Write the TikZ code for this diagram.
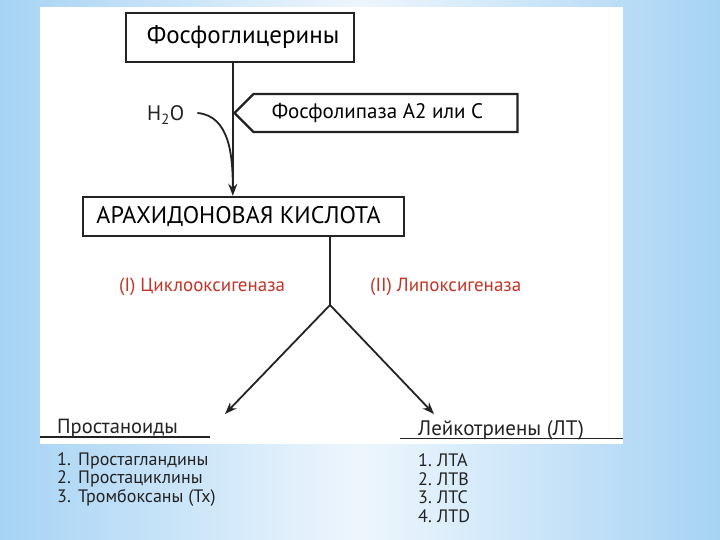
\documentclass[tikz,border=0pt]{standalone}
\usepackage{fontspec}
\setmainfont{PT Sans}
\setsansfont{PT Sans}
\usetikzlibrary{positioning,arrows.meta,shapes.symbols}
\definecolor{slideblue}{RGB}{166,211,244}
\definecolor{slidelight}{RGB}{238,246,253}
\definecolor{enzymered}{RGB}{196,52,38}
\definecolor{ink}{RGB}{35,35,35}
\tikzset{every picture/.style={/utils/exec={\sffamily}}}
\tikzset{
  box/.style={draw=ink,line width=2.4pt,fill=white,inner sep=0pt},
  word/.style={inner sep=0pt,anchor=west,text=ink},
  enzyme/.style={word,text=enzymered,font=\fontsize{19}{22}\selectfont},
  item/.style={word,font=\fontsize{18}{21}\selectfont},
  heading/.style={word,font=\fontsize{21}{24}\selectfont},
  flow/.style={draw=ink,line width=1.8pt,-{Stealth[length=12pt,width=9pt]}}
}

\begin{document}
\begin{tikzpicture}[x=1pt,y=-1pt]
  \useasboundingbox (0,0) rectangle (720,540);
  \shade[left color=slideblue,right color=slideblue,middle color=slidelight] (0,0) rectangle (720,540);
  \fill[white] (40,7.5) rectangle (623,444);

  \node[box,minimum width=228pt,minimum height=49pt,font=\fontsize{25}{29}\selectfont] (phospho) at (240,37.5) {\hspace*{6pt}Фосфоглицерины};
  \node[box,shape=signal,signal to=west,signal pointer angle=90,minimum width=283pt,minimum height=38pt,
        font=\fontsize{21}{25}\selectfont] (lipase) at (385.5,113) {Фосфолипаза А2 или С\hspace*{16pt}};
  \node[box,minimum width=321pt,minimum height=39pt,font=\fontsize{24}{28}\selectfont] (arachidon) at (243.5,216.5) {АРАХИДОНОВАЯ КИСЛОТА\hspace*{10pt}};
  \node[word,font=\fontsize{21}{25}\selectfont] (water) at (147,115) {H\textsubscript{2}O};

  \coordinate (fork) at (330,305);
  \coordinate (join) at (lipase.west |- 0,188);
  \coordinate (tipleft) at (225,414);
  \coordinate (tipright) at (434,414);

  \draw[flow] (phospho.south -| lipase.west) -- (arachidon.north -| lipase.west);
  \draw[draw=ink,line width=1.8pt] (water.east) ++(13pt,2pt) coordinate (wfrom) to[out=-5,in=90] (join);
  \draw[draw=ink,line width=1.8pt] (arachidon.south -| fork) -- (fork);
  \draw[flow] (fork) -- (tipleft);
  \draw[flow] (fork) -- (tipright);

  \node[enzyme] (cox) at (119,287) {(I) Циклооксигеназа};
  \node[enzyme] (lox) at (370,287) {(II) Липоксигеназа};

  \node[heading,font=\fontsize{20.5}{24}\selectfont] (prostanoids) at (57,428) {Простаноиды};
  \node[heading] (leukotrienes) at (418,430) {Лейкотриены (ЛТ)};
  \draw[draw=ink,line width=1.6pt] (40,437) -- (210,437);
  \draw[draw=ink,line width=1.6pt] (400,438.5) -- (623,438.5);

  \foreach \txt [count=\i] in {Простагландины,Простациклины,Тромбоксаны (Тх)}
    \node[item] (prost\i) at (57,442+18.5*\i) {\makebox[21pt][l]{\i.}\txt};
  \foreach \txt [count=\i] in {ЛТА,ЛТВ,ЛТС,ЛТD}
    \node[item] (lt\i) at (418,442+18.5*\i) {\makebox[19pt][l]{\i.}\txt};
\end{tikzpicture}
\end{document}
